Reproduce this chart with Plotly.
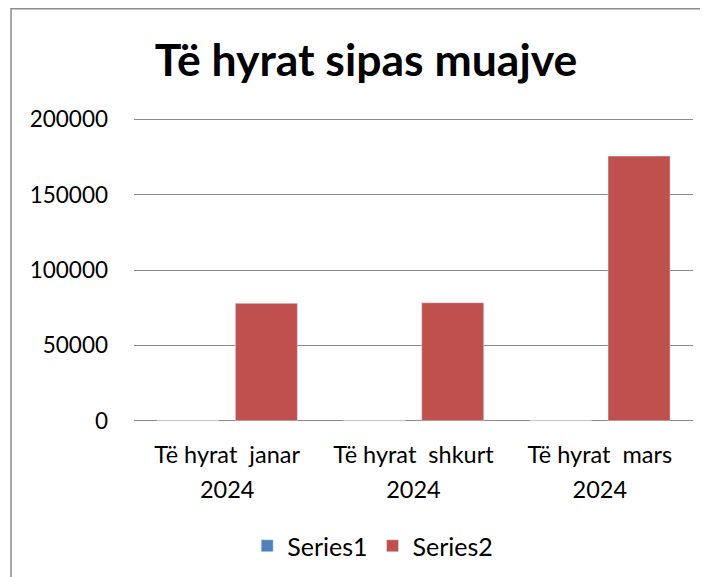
import plotly.graph_objects as go

months = ["janar", "shkurt", "mars"]
year = "2024"
series1 = [0, 0, 0]
series2 = [77900, 78300, 175600]
y_ticks = [0, 50000, 100000, 150000, 200000]

FONT = "Lato, 'Open Sans', sans-serif"
LBL = "<span style='font-size:23.5px'>{}</span>"
categories = [LBL.format("Të hyrat\u00a0 " + m) + "<br>" + LBL.format(year) for m in months]

fig = go.Figure()
fig.add_trace(go.Bar(name="Series1", x=categories, y=series1, marker_color="#4F81BD",
                     width=0.333, offset=-0.377))
fig.add_trace(go.Bar(name="Series2", x=categories, y=series2, marker_color="#C0504D",
                     width=0.333, offset=0.044))

fig.update_layout(
    width=708, height=577,
    margin=dict(l=126, r=23, t=109, b=162, autoexpand=False),
    paper_bgcolor="white", plot_bgcolor="white",
    font=dict(family=FONT, size=22, color="black"),
    title=dict(text="<b>Të hyrat sipas muajve</b>", x=0.415, xref="paper", xanchor="center",
               y=0.91, yanchor="middle", font=dict(family=FONT, size=44.5, color="black")),
    barmode="group",
    showlegend=True,
    legend=dict(orientation="h", x=0.427, y=-0.402, xanchor="center", yanchor="middle",
                font=dict(size=25), itemwidth=30, traceorder="normal"),
    xaxis=dict(showgrid=False, showline=False, ticks="", tickfont=dict(size=27),
               ticklabelstandoff=12, automargin=False),
    yaxis=dict(range=[-1500, 201500], tickvals=y_ticks, ticktext=[str(v) for v in y_ticks],
               showgrid=True, gridcolor="#898989", gridwidth=1.4, zeroline=False,
               showline=False, ticks="", ticklabelstandoff=25, tickfont=dict(size=22.5),
               automargin=False),
    shapes=[dict(type="rect", xref="paper", yref="paper", x0=-0.22, y0=-0.6, x1=1.1, y1=1.354,
                 line=dict(color="#8c8c8c", width=1.5), fillcolor="rgba(0,0,0,0)", layer="below")],
)

fig.write_html("out.html")
